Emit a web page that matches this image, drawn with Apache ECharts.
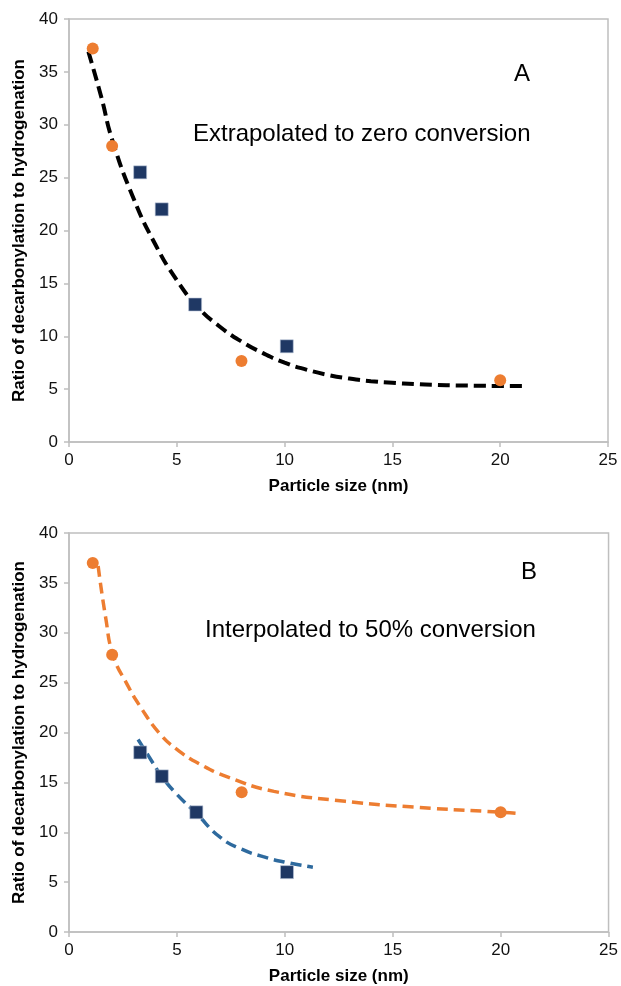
<!DOCTYPE html>
<html>
<head>
<meta charset="utf-8">
<script src="https://cdn.jsdelivr.net/npm/echarts@6/dist/echarts.min.js"></script>
<style>
html,body{margin:0;padding:0;background:#fff;}
#c{width:621px;height:986px;}
</style>
</head>
<body>
<div id="c"></div>
<script>
// ---- Data ----
var xTicks = [0, 5, 10, 15, 20, 25];
var yTicks = [0, 5, 10, 15, 20, 25, 30, 35, 40];

// Panel A: extrapolated to zero conversion
var aCircles = [[1.1, 37.2], [2.0, 28.0], [8.0, 7.65], [20.0, 5.85]];
var aSquares = [[3.3, 25.5], [4.3, 22.0], [5.85, 13.0], [10.1, 9.05]];
var aTrend = [[0.9, 36.9], [1.5, 32.6], [2.0, 28.6], [3.0, 23.0], [4.0, 18.7], [5.0, 15.3],
              [6.0, 12.7], [7.0, 10.9], [8.0, 9.5], [9.0, 8.4], [10.0, 7.5], [11.0, 6.85],
              [12.0, 6.35], [13.0, 6.0], [14.0, 5.75], [15.0, 5.6], [16.0, 5.48], [17.0, 5.4],
              [18.0, 5.35], [19.0, 5.32], [20.0, 5.3], [21.2, 5.3]];

// Panel B: interpolated to 50% conversion
var bCircles = [[1.1, 37.0], [2.0, 27.8], [8.0, 14.0], [20.0, 12.0]];
var bSquares = [[3.3, 18.0], [4.3, 15.6], [5.9, 12.0], [10.1, 6.0]];
var bOrangeTrend = [[1.35, 36.7], [1.7, 31.5], [2.05, 27.7], [2.7, 24.8], [3.3, 22.6], [4.2, 19.9],
                    [5.0, 18.3], [6.0, 16.9], [7.4, 15.5], [9.5, 14.1], [12.8, 13.1], [16.1, 12.5],
                    [20.1, 12.0], [20.75, 11.9]];
var bBlueTrend = [[3.2, 19.3], [3.7, 17.6], [4.3, 15.6], [5.0, 13.8], [5.9, 11.9], [7.0, 9.5],
                  [8.0, 8.3], [9.0, 7.55], [10.0, 7.0], [11.3, 6.5]];

var xTitle = 'Particle size (nm)';
var yTitle = 'Ratio of decarbonylation to hydrogenation';
var labelA = 'A', textA = 'Extrapolated to zero conversion';
var labelB = 'B', textB = 'Interpolated to 50% conversion';

// ---- Styling ----
var FONT = '"Liberation Sans", Arial, sans-serif';
var AXIS_GREY = '#BFBFBF';
var ORANGE = '#ED7D31';
var NAVY = '#1F3864';
var BLUE = '#2E6A9E';

function xAx(idx) {
  return {
    type: 'value', gridIndex: idx, min: xTicks[0], max: xTicks[xTicks.length - 1], interval: 5,
    name: xTitle, nameLocation: 'middle', nameGap: 36,
    nameTextStyle: {fontFamily: FONT, fontWeight: 'bold', fontSize: 17, color: '#000'},
    axisLine: {show: true, lineStyle: {color: AXIS_GREY, width: 1.5}},
    axisTick: {show: true, inside: false, length: 5, lineStyle: {color: AXIS_GREY, width: 1.5}},
    axisLabel: {fontFamily: FONT, fontSize: 17, color: '#111', margin: 10},
    splitLine: {show: false}
  };
}
function yAx(idx) {
  return {
    type: 'value', gridIndex: idx, min: yTicks[0], max: yTicks[yTicks.length - 1], interval: 5,
    name: yTitle, nameLocation: 'middle', nameGap: 40,
    nameTextStyle: {fontFamily: FONT, fontWeight: 'bold', fontSize: 17, color: '#000'},
    axisLine: {show: true, lineStyle: {color: AXIS_GREY, width: 1.5}},
    axisTick: {show: true, inside: false, length: 5, lineStyle: {color: AXIS_GREY, width: 1.5}},
    axisLabel: {fontFamily: FONT, fontSize: 17, color: '#111', margin: 11},
    splitLine: {show: false}
  };
}

var chart = echarts.init(document.getElementById('c'), null, {renderer: 'canvas'});
chart.setOption({
  animation: false,
  backgroundColor: '#fff',
  grid: [
    {left: 69, top: 19, width: 539, height: 423, show: true, borderColor: AXIS_GREY, borderWidth: 1.5, containLabel: false},
    {left: 69, top: 533, width: 541, height: 401, show: true, borderColor: AXIS_GREY, borderWidth: 1.5, containLabel: false}
  ],
  xAxis: [xAx(0), xAx(1)],
  yAxis: [yAx(0), yAx(1)],
  graphic: [
    {type: 'text', left: 514, top: 62, style: {text: labelA, font: '24px ' + FONT, fill: '#000'}},
    {type: 'text', left: 193, top: 122, style: {text: textA, font: '24px ' + FONT, fill: '#000'}},
    {type: 'text', left: 521, top: 560, style: {text: labelB, font: '24px ' + FONT, fill: '#000'}},
    {type: 'text', left: 205, top: 618, style: {text: textB, font: '24px ' + FONT, fill: '#000'}}
  ],
  series: [
    {type: 'line', xAxisIndex: 0, yAxisIndex: 0, data: aTrend, smooth: true, showSymbol: false, symbol: 'none',
     lineStyle: {color: '#000', width: 4, type: [12, 6]}, z: 2},
    {type: 'scatter', xAxisIndex: 0, yAxisIndex: 0, data: aCircles, symbol: 'circle', symbolSize: 12,
     itemStyle: {color: ORANGE, opacity: 1}, z: 3},
    {type: 'scatter', xAxisIndex: 0, yAxisIndex: 0, data: aSquares, symbol: 'rect', symbolSize: 13,
     itemStyle: {color: NAVY, opacity: 1, borderColor: '#b8c4d8', borderWidth: 0.6}, z: 3},

    {type: 'line', xAxisIndex: 1, yAxisIndex: 1, data: bOrangeTrend, smooth: true, showSymbol: false, symbol: 'none',
     lineStyle: {color: ORANGE, width: 3.5, type: [11, 6]}, z: 2},
    {type: 'line', xAxisIndex: 1, yAxisIndex: 1, data: bBlueTrend, smooth: true, showSymbol: false, symbol: 'none',
     lineStyle: {color: BLUE, width: 3.5, type: [11, 6]}, z: 2},
    {type: 'scatter', xAxisIndex: 1, yAxisIndex: 1, data: bCircles, symbol: 'circle', symbolSize: 12,
     itemStyle: {color: ORANGE, opacity: 1}, z: 3},
    {type: 'scatter', xAxisIndex: 1, yAxisIndex: 1, data: bSquares, symbol: 'rect', symbolSize: 13,
     itemStyle: {color: NAVY, opacity: 1, borderColor: '#b8c4d8', borderWidth: 0.6}, z: 3}
  ]
});
</script>
</body>
</html>
